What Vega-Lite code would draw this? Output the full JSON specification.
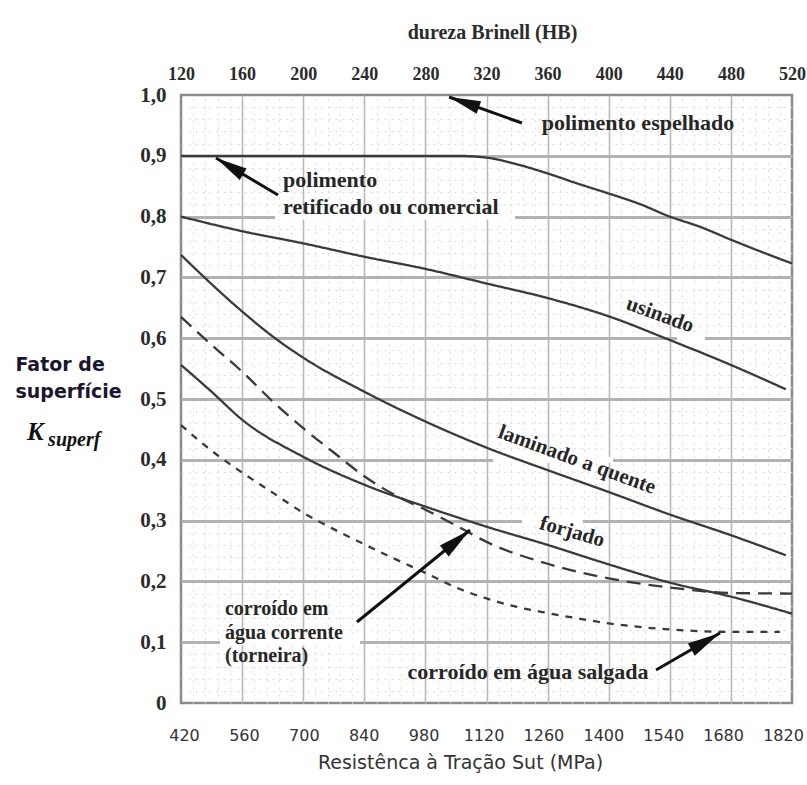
{
  "$schema": "https://vega.github.io/schema/vega-lite/v6.json",
  "width": 611,
  "height": 608,
  "autosize": {"type": "none"},
  "padding": {"left": 181, "top": 95, "right": 15, "bottom": 82},
  "background": "white",
  "config": {"view": {"stroke": "#8a8a8a", "strokeWidth": 2.5}},
  "datasets": {
    "curves": [
      {"s": "polimento", "hb": 120, "k": 0.9}, {"s": "polimento", "hb": 200, "k": 0.9}, {"s": "polimento", "hb": 280, "k": 0.9}, {"s": "polimento", "hb": 300, "k": 0.9}, {"s": "polimento", "hb": 320, "k": 0.897}, {"s": "polimento", "hb": 340, "k": 0.886}, {"s": "polimento", "hb": 360, "k": 0.871}, {"s": "polimento", "hb": 380, "k": 0.854}, {"s": "polimento", "hb": 400, "k": 0.838}, {"s": "polimento", "hb": 420, "k": 0.821}, {"s": "polimento", "hb": 440, "k": 0.8}, {"s": "polimento", "hb": 460, "k": 0.783}, {"s": "polimento", "hb": 480, "k": 0.762}, {"s": "polimento", "hb": 500, "k": 0.742}, {"s": "polimento", "hb": 520, "k": 0.723},
      {"s": "usinado", "hb": 120, "k": 0.8}, {"s": "usinado", "hb": 160, "k": 0.776}, {"s": "usinado", "hb": 200, "k": 0.756}, {"s": "usinado", "hb": 240, "k": 0.734}, {"s": "usinado", "hb": 280, "k": 0.714}, {"s": "usinado", "hb": 320, "k": 0.69}, {"s": "usinado", "hb": 360, "k": 0.666}, {"s": "usinado", "hb": 400, "k": 0.636}, {"s": "usinado", "hb": 440, "k": 0.597}, {"s": "usinado", "hb": 480, "k": 0.556}, {"s": "usinado", "hb": 516, "k": 0.516},
      {"s": "laminado", "hb": 120, "k": 0.737}, {"s": "laminado", "hb": 140, "k": 0.689}, {"s": "laminado", "hb": 160, "k": 0.644}, {"s": "laminado", "hb": 180, "k": 0.603}, {"s": "laminado", "hb": 200, "k": 0.568}, {"s": "laminado", "hb": 240, "k": 0.512}, {"s": "laminado", "hb": 280, "k": 0.463}, {"s": "laminado", "hb": 320, "k": 0.42}, {"s": "laminado", "hb": 360, "k": 0.383}, {"s": "laminado", "hb": 400, "k": 0.347}, {"s": "laminado", "hb": 440, "k": 0.31}, {"s": "laminado", "hb": 480, "k": 0.276}, {"s": "laminado", "hb": 516, "k": 0.243},
      {"s": "forjado", "hb": 120, "k": 0.556}, {"s": "forjado", "hb": 140, "k": 0.512}, {"s": "forjado", "hb": 160, "k": 0.466}, {"s": "forjado", "hb": 200, "k": 0.405}, {"s": "forjado", "hb": 240, "k": 0.359}, {"s": "forjado", "hb": 280, "k": 0.323}, {"s": "forjado", "hb": 320, "k": 0.29}, {"s": "forjado", "hb": 360, "k": 0.26}, {"s": "forjado", "hb": 400, "k": 0.228}, {"s": "forjado", "hb": 440, "k": 0.198}, {"s": "forjado", "hb": 480, "k": 0.175}, {"s": "forjado", "hb": 520, "k": 0.147},
      {"s": "corrente", "hb": 120, "k": 0.635}, {"s": "corrente", "hb": 140, "k": 0.589}, {"s": "corrente", "hb": 160, "k": 0.545}, {"s": "corrente", "hb": 180, "k": 0.496}, {"s": "corrente", "hb": 200, "k": 0.452}, {"s": "corrente", "hb": 220, "k": 0.412}, {"s": "corrente", "hb": 240, "k": 0.373}, {"s": "corrente", "hb": 260, "k": 0.342}, {"s": "corrente", "hb": 280, "k": 0.318}, {"s": "corrente", "hb": 300, "k": 0.292}, {"s": "corrente", "hb": 320, "k": 0.265}, {"s": "corrente", "hb": 360, "k": 0.229}, {"s": "corrente", "hb": 400, "k": 0.205}, {"s": "corrente", "hb": 440, "k": 0.19}, {"s": "corrente", "hb": 480, "k": 0.181}, {"s": "corrente", "hb": 520, "k": 0.18},
      {"s": "salgada", "hb": 120, "k": 0.457}, {"s": "salgada", "hb": 140, "k": 0.415}, {"s": "salgada", "hb": 160, "k": 0.379}, {"s": "salgada", "hb": 180, "k": 0.346}, {"s": "salgada", "hb": 200, "k": 0.313}, {"s": "salgada", "hb": 220, "k": 0.286}, {"s": "salgada", "hb": 240, "k": 0.261}, {"s": "salgada", "hb": 260, "k": 0.237}, {"s": "salgada", "hb": 280, "k": 0.214}, {"s": "salgada", "hb": 300, "k": 0.19}, {"s": "salgada", "hb": 320, "k": 0.172}, {"s": "salgada", "hb": 340, "k": 0.158}, {"s": "salgada", "hb": 360, "k": 0.148}, {"s": "salgada", "hb": 380, "k": 0.139}, {"s": "salgada", "hb": 400, "k": 0.131}, {"s": "salgada", "hb": 440, "k": 0.121}, {"s": "salgada", "hb": 480, "k": 0.117}, {"s": "salgada", "hb": 512, "k": 0.117}
    ],
    "gaps": [
      {"hb": 181.5, "hb2": 338.7, "k": 0.8},
      {"hb": 444.7, "hb2": 463.0, "k": 0.6},
      {"hb": 324.3, "hb2": 402.8, "k": 0.4},
      {"hb": 343.2, "hb2": 383.2, "k": 0.3},
      {"hb": 145.5, "hb2": 237.2, "k": 0.1}
    ],
    "arrows": [
      {"a": "esp", "p": "tail", "hb": 343.2, "k": 0.9539}, {"a": "esp", "p": "tip", "hb": 295.5, "k": 0.9967},
      {"a": "ret", "p": "tail", "hb": 183.5, "k": 0.8355}, {"a": "ret", "p": "tip", "hb": 142.9, "k": 0.8964},
      {"a": "cor", "p": "tail", "hb": 235.2, "k": 0.1332}, {"a": "cor", "p": "tip", "hb": 309.2, "k": 0.2845},
      {"a": "sal", "p": "tail", "hb": 431.0, "k": 0.0543}, {"a": "sal", "p": "tip", "hb": 472.9, "k": 0.1151}
    ],
    "mpa": [{"mpa": 420}, {"mpa": 560}, {"mpa": 700}, {"mpa": 840}, {"mpa": 980}, {"mpa": 1120}, {"mpa": 1260}, {"mpa": 1400}, {"mpa": 1540}, {"mpa": 1680}, {"mpa": 1820}]
  },
  "layer": [
    {
      "layer": [
        {
          "data": {"name": "gaps"},
          "mark": {"type": "rule", "color": "white", "strokeWidth": 6},
          "encoding": {
            "x": {
              "field": "hb", "type": "quantitative",
              "scale": {"domain": [120, 520], "nice": false, "zero": false},
              "axis": {
                "orient": "top",
                "tickCount": 200,
                "values": [120,128,136,144,152,160,168,176,184,192,200,208,216,224,232,240,248,256,264,272,280,288,296,304,312,320,328,336,344,352,360,368,376,384,392,400,408,416,424,432,440,448,456,464,472,480,488,496,504,512,520],
                "labelExpr": "(datum.value - 120) % 40 == 0 ? format(datum.value, 'd') : ''",
                "labelFont": "Liberation Serif", "labelFontSize": 18, "labelFontWeight": "bold", "labelColor": "#2b2b2b",
                "labelPadding": 12, "labelOverlap": false, "labelFlush": false, "labelBound": false,
                "ticks": false, "domain": false,
                "grid": true,
                "gridColor": {"condition": {"test": "(datum.value - 120) % 40 == 0", "value": "#b9b9b9"}, "value": "#dadada"},
                "gridWidth": {"condition": {"test": "(datum.value - 120) % 40 == 0", "value": 1.6}, "value": 1},
                "gridDash": {"condition": {"test": "(datum.value - 120) % 40 == 0", "value": []}, "value": [2, 5]},
                "gridOpacity": {"condition": {"test": "datum.value == 120 || datum.value == 520", "value": 0}, "value": 1},
                "title": "dureza Brinell (HB)",
                "titleFont": "Liberation Serif", "titleFontSize": 20, "titleFontWeight": "bold", "titleColor": "#2b2b2b",
                "titleX": 311, "titleY": -63, "titleBaseline": "middle", "titleAlign": "center"
              }
            },
            "x2": {"field": "hb2"},
            "y": {
              "field": "k", "type": "quantitative",
              "scale": {"domain": [0, 1], "nice": false, "zero": false},
              "axis": {
                "orient": "left",
                "tickCount": 200,
                "values": [0,0.02,0.04,0.06,0.08,0.1,0.12,0.14,0.16,0.18,0.2,0.22,0.24,0.26,0.28,0.3,0.32,0.34,0.36,0.38,0.4,0.42,0.44,0.46,0.48,0.5,0.52,0.54,0.56,0.58,0.6,0.62,0.64,0.66,0.68,0.7,0.72,0.74,0.76,0.78,0.8,0.82,0.84,0.86,0.88,0.9,0.92,0.94,0.96,0.98,1],
                "labelExpr": "abs(datum.value*10 - round(datum.value*10)) < 0.001 ? (datum.value == 0 ? '0' : replace(format(datum.value, '.1f'), '.', ',')) : ''",
                "labelFont": "Liberation Serif", "labelFontSize": 21, "labelFontWeight": "bold", "labelColor": "#2b2b2b",
                "labelPadding": 15, "labelOverlap": false, "labelFlush": false, "labelBound": false,
                "ticks": false, "domain": false,
                "grid": true,
                "gridColor": {"condition": {"test": "abs(datum.value*10 - round(datum.value*10)) < 0.001", "value": "#b2b2b2"}, "value": "#dadada"},
                "gridWidth": {"condition": {"test": "abs(datum.value*10 - round(datum.value*10)) < 0.001", "value": 3}, "value": 1},
                "gridDash": {"condition": {"test": "abs(datum.value*10 - round(datum.value*10)) < 0.001", "value": []}, "value": [2, 5]},
                "gridOpacity": {"condition": {"test": "datum.value == 0 || datum.value == 1", "value": 0}, "value": 1},
                "title": ["Fator de", "superfície"],
                "titleFont": "DejaVu Sans", "titleFontSize": 19, "titleFontWeight": "bold", "titleColor": "#1b1530",
                "titleAngle": 0, "titleAlign": "left", "titleBaseline": "alphabetic",
                "titleX": -166, "titleY": 275, "titleLineHeight": 27
              }
            }
          }
        },
        {
          "data": {"name": "curves"},
          "mark": {"type": "line", "interpolate": "monotone", "color": "#3a3a3a", "strokeWidth": 2.3},
          "encoding": {
            "x": {"field": "hb", "type": "quantitative", "scale": {"domain": [120, 520], "nice": false, "zero": false}},
            "y": {"field": "k", "type": "quantitative", "scale": {"domain": [0, 1], "nice": false, "zero": false}},
            "strokeDash": {
              "field": "s", "type": "nominal",
              "scale": {"domain": ["polimento", "usinado", "laminado", "forjado", "corrente", "salgada"], "range": [[1, 0], [1, 0], [1, 0], [1, 0], [14, 8], [7, 7]]},
              "legend": null
            }
          }
        },
        {
          "data": {"name": "arrows"},
          "mark": {"type": "line", "color": "#111111", "strokeWidth": 3},
          "encoding": {
            "x": {"field": "hb", "type": "quantitative", "scale": {"domain": [120, 520], "nice": false, "zero": false}},
            "y": {"field": "k", "type": "quantitative", "scale": {"domain": [0, 1], "nice": false, "zero": false}},
            "detail": {"field": "a", "type": "nominal"}
          }
        },
        {
          "data": {"name": "arrows"},
          "transform": [{"filter": "datum.a == 'esp' && datum.p == 'tip'"}],
          "mark": {"type": "point", "shape": "M0,0L0.42,2L-0.42,2Z", "size": 1000, "angle": 289.6, "filled": true, "color": "#111111", "opacity": 1, "strokeWidth": 0},
          "encoding": {
            "x": {"field": "hb", "type": "quantitative", "scale": {"domain": [120, 520], "nice": false, "zero": false}},
            "y": {"field": "k", "type": "quantitative", "scale": {"domain": [0, 1], "nice": false, "zero": false}}
          }
        },
        {
          "data": {"name": "arrows"},
          "transform": [{"filter": "datum.a == 'ret' && datum.p == 'tip'"}],
          "mark": {"type": "point", "shape": "M0,0L0.42,2L-0.42,2Z", "size": 1000, "angle": 300.8, "filled": true, "color": "#111111", "opacity": 1, "strokeWidth": 0},
          "encoding": {
            "x": {"field": "hb", "type": "quantitative", "scale": {"domain": [120, 520], "nice": false, "zero": false}},
            "y": {"field": "k", "type": "quantitative", "scale": {"domain": [0, 1], "nice": false, "zero": false}}
          }
        },
        {
          "data": {"name": "arrows"},
          "transform": [{"filter": "datum.a == 'cor' && datum.p == 'tip'"}],
          "mark": {"type": "point", "shape": "M0,0L0.42,2L-0.42,2Z", "size": 1100, "angle": 50.8, "filled": true, "color": "#111111", "opacity": 1, "strokeWidth": 0},
          "encoding": {
            "x": {"field": "hb", "type": "quantitative", "scale": {"domain": [120, 520], "nice": false, "zero": false}},
            "y": {"field": "k", "type": "quantitative", "scale": {"domain": [0, 1], "nice": false, "zero": false}}
          }
        },
        {
          "data": {"name": "arrows"},
          "transform": [{"filter": "datum.a == 'sal' && datum.p == 'tip'"}],
          "mark": {"type": "point", "shape": "M0,0L0.42,2L-0.42,2Z", "size": 1100, "angle": 60, "filled": true, "color": "#111111", "opacity": 1, "strokeWidth": 0},
          "encoding": {
            "x": {"field": "hb", "type": "quantitative", "scale": {"domain": [120, 520], "nice": false, "zero": false}},
            "y": {"field": "k", "type": "quantitative", "scale": {"domain": [0, 1], "nice": false, "zero": false}}
          }
        },
        {
          "data": {"values": [
            {"t": "polimento", "hb": 186.8, "k": 0.8602},
            {"t": "retificado ou comercial", "hb": 186.8, "k": 0.8158}
          ]},
          "mark": {"type": "text", "font": "Liberation Serif", "fontSize": 22, "fontWeight": "bold", "color": "#262626", "align": "left", "baseline": "middle"},
          "encoding": {
            "x": {"field": "hb", "type": "quantitative", "scale": {"domain": [120, 520], "nice": false, "zero": false}},
            "y": {"field": "k", "type": "quantitative", "scale": {"domain": [0, 1], "nice": false, "zero": false}},
            "text": {"field": "t"}
          }
        },
        {
          "data": {"values": [
            {"t": "corroído em", "hb": 148.8, "k": 0.154},
            {"t": "água corrente", "hb": 148.8, "k": 0.1155},
            {"t": "(torneira)", "hb": 148.8, "k": 0.078}
          ]},
          "mark": {"type": "text", "font": "Liberation Serif", "fontSize": 20, "fontWeight": "bold", "color": "#262626", "align": "left", "baseline": "middle"},
          "encoding": {
            "x": {"field": "hb", "type": "quantitative", "scale": {"domain": [120, 520], "nice": false, "zero": false}},
            "y": {"field": "k", "type": "quantitative", "scale": {"domain": [0, 1], "nice": false, "zero": false}},
            "text": {"field": "t"}
          }
        },
        {
          "data": {"values": [
            {"t": "polimento espelhado", "hb": 419.2, "k": 0.954},
            {"t": "corroído em água salgada", "hb": 347.2, "k": 0.051}
          ]},
          "mark": {"type": "text", "font": "Liberation Serif", "fontSize": 22, "fontWeight": "bold", "color": "#262626", "align": "center", "baseline": "middle"},
          "encoding": {
            "x": {"field": "hb", "type": "quantitative", "scale": {"domain": [120, 520], "nice": false, "zero": false}},
            "y": {"field": "k", "type": "quantitative", "scale": {"domain": [0, 1], "nice": false, "zero": false}},
            "text": {"field": "t"}
          }
        },
        {
          "data": {"values": [
            {"t": "usinado", "hb": 433.6, "k": 0.638},
            {"t": "laminado a quente", "hb": 379.2, "k": 0.3997}
          ]},
          "mark": {"type": "text", "font": "Liberation Serif", "fontSize": 21, "fontWeight": "bold", "color": "#262626", "align": "center", "baseline": "middle", "angle": 20},
          "encoding": {
            "x": {"field": "hb", "type": "quantitative", "scale": {"domain": [120, 520], "nice": false, "zero": false}},
            "y": {"field": "k", "type": "quantitative", "scale": {"domain": [0, 1], "nice": false, "zero": false}},
            "text": {"field": "t"}
          }
        },
        {
          "data": {"values": [
            {"t": "forjado", "hb": 376.0, "k": 0.2812}
          ]},
          "mark": {"type": "text", "font": "Liberation Serif", "fontSize": 21, "fontWeight": "bold", "color": "#262626", "align": "center", "baseline": "middle", "angle": 16},
          "encoding": {
            "x": {"field": "hb", "type": "quantitative", "scale": {"domain": [120, 520], "nice": false, "zero": false}},
            "y": {"field": "k", "type": "quantitative", "scale": {"domain": [0, 1], "nice": false, "zero": false}},
            "text": {"field": "t"}
          }
        },
        {
          "data": {"values": [{"t": "K", "hb": 19.2, "k": 0.4326}]},
          "mark": {"type": "text", "font": "Liberation Serif", "fontSize": 25, "fontWeight": "bold", "fontStyle": "italic", "color": "#111111", "align": "left", "baseline": "alphabetic"},
          "encoding": {
            "x": {"field": "hb", "type": "quantitative", "scale": {"domain": [120, 520], "nice": false, "zero": false}},
            "y": {"field": "k", "type": "quantitative", "scale": {"domain": [0, 1], "nice": false, "zero": false}},
            "text": {"field": "t"}
          }
        },
        {
          "data": {"values": [{"t": "superf", "hb": 33.0, "k": 0.4227}]},
          "mark": {"type": "text", "font": "Liberation Serif", "fontSize": 20, "fontWeight": "bold", "fontStyle": "italic", "color": "#111111", "align": "left", "baseline": "alphabetic"},
          "encoding": {
            "x": {"field": "hb", "type": "quantitative", "scale": {"domain": [120, 520], "nice": false, "zero": false}},
            "y": {"field": "k", "type": "quantitative", "scale": {"domain": [0, 1], "nice": false, "zero": false}},
            "text": {"field": "t"}
          }
        }
      ]
    },
    {
      "data": {"name": "mpa"},
      "mark": {"type": "rule", "opacity": 0},
      "encoding": {
        "x": {
          "field": "mpa", "type": "quantitative",
          "scale": {"domain": [413, 1841], "nice": false, "zero": false},
          "axis": {
            "orient": "bottom",
            "tickCount": 50,
            "values": [420, 560, 700, 840, 980, 1120, 1260, 1400, 1540, 1680, 1820],
            "format": "d",
            "labelFont": "DejaVu Sans", "labelFontSize": 16, "labelColor": "#333333",
            "labelPadding": 24, "labelOverlap": false, "labelFlush": false, "labelBound": false,
            "ticks": false, "domain": false, "grid": false,
            "title": "Resistênca à Tração Sut (MPa)",
            "titleFont": "DejaVu Sans", "titleFontSize": 19, "titleFontWeight": "normal", "titleColor": "#333333",
            "titleX": 279, "titleY": 59, "titleBaseline": "middle", "titleAlign": "center", "titleAngle": 0
          }
        }
      }
    }
  ],
  "resolve": {"scale": {"x": "independent"}}
}
